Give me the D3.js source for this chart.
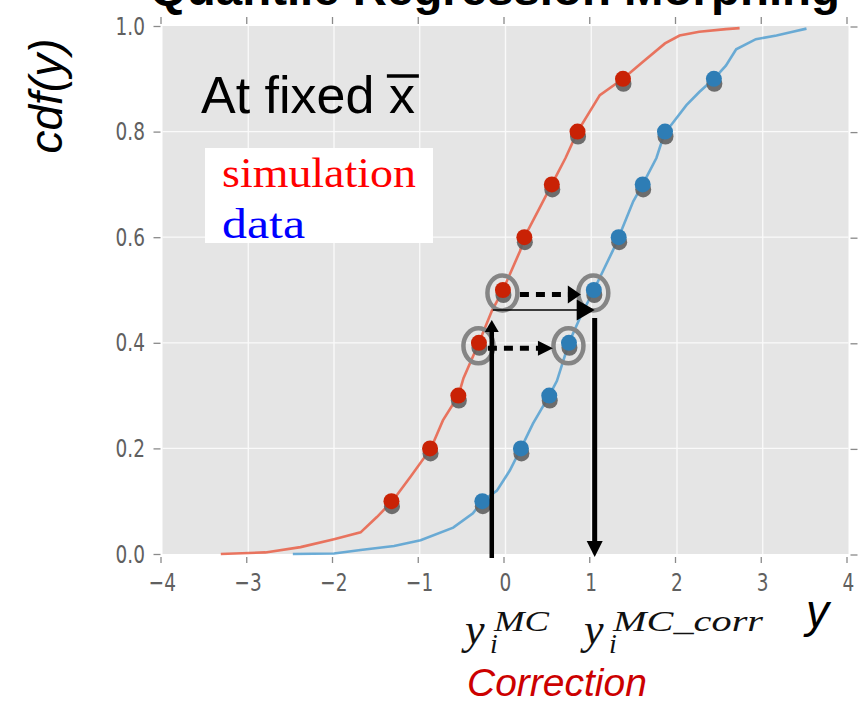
<!DOCTYPE html>
<html>
<head>
<meta charset="utf-8">
<script src="https://cdn.jsdelivr.net/npm/d3@7"></script>
<style>
  html, body { margin: 0; padding: 0; background: #fff; }
  svg { display: block; }
</style>
</head>
<body>
<svg id="chart" width="859" height="704"></svg>
<script>
// Empirical CDF of the simulation (x, cdf)
const simCurveX = [-3.32, -2.8, -2.39, -2.0, -1.69, -1.5, -1.32, -1.11, -0.87, -0.73, -0.55, -0.49, -0.31, -0.16, -0.03, 0.17, 0.22, 0.38, 0.54, 0.70, 0.84, 1.10, 1.37, 1.60, 1.86, 2.03, 2.26, 2.57, 2.73];
const simCurveP = [0.0, 0.003, 0.013, 0.028, 0.041, 0.07, 0.1, 0.146, 0.2, 0.253, 0.3, 0.333, 0.4, 0.46, 0.5, 0.574, 0.6, 0.65, 0.7, 0.75, 0.8, 0.869, 0.9, 0.932, 0.967, 0.982, 0.989, 0.994, 0.996];
// Empirical CDF of the data (x, cdf)
const dataCurveX = [-2.48, -2.0, -1.69, -1.3, -0.99, -0.61, -0.38, -0.27, -0.10, 0.05, 0.18, 0.32, 0.51, 0.60, 0.74, 0.87, 1.03, 1.25, 1.32, 1.49, 1.60, 1.76, 1.86, 1.93, 2.11, 2.26, 2.43, 2.57, 2.69, 2.92, 3.16, 3.35, 3.51];
const dataCurveP = [0.0, 0.001, 0.0075, 0.015, 0.026, 0.05, 0.077, 0.1, 0.12, 0.158, 0.2, 0.247, 0.3, 0.328, 0.4, 0.448, 0.5, 0.574, 0.6, 0.668, 0.7, 0.75, 0.8, 0.812, 0.85, 0.875, 0.9, 0.925, 0.956, 0.975, 0.982, 0.989, 0.995];
// Quantile levels and the fitted quantiles of each sample
const quantileLevels = [0.1, 0.2, 0.3, 0.4, 0.5, 0.6, 0.7, 0.8, 0.9];
const simQuantiles = [-1.33, -0.88, -0.55, -0.31, -0.03, 0.22, 0.54, 0.84, 1.37];
const dataQuantiles = [-0.27, 0.18, 0.51, 0.74, 1.03, 1.32, 1.60, 1.86, 2.43];
// Highlighted quantile indices (0.4 and 0.5)
const highlighted = [3, 4];
// Correction example: y_MC, corrected value, cdf level
const yMC = -0.16;
const yCorr = 1.04;
const pLevel = 0.462;
// Axis ticks
const xTicks = [-4, -3, -2, -1, 0, 1, 2, 3, 4];
const yTicks = [0.0, 0.2, 0.4, 0.6, 0.8, 1.0];

(function draw() {
const svg = d3.select("#chart");
const pl = 162.5, pr = 848.5, pt = 26, pb = 554;
const x = d3.scaleLinear().domain([-4, 4]).range([pl, pr]);
const y = d3.scaleLinear().domain([0, 1]).range([pb, pt]);

const RED_LINE = "#E8563C", BLUE_LINE = "#4A9BD0";
const RED_PT = "#C92205", BLUE_PT = "#2E7DB5";
const tickFont = "'DejaVu Sans', sans-serif";
const sans = "'Liberation Sans', Arial, sans-serif";

// Title (runs off the top edge)
svg.append("text")
  .attr("x", 150).attr("y", 5)
  .attr("textLength", 690).attr("lengthAdjust", "spacingAndGlyphs")
  .style("font-family", sans)
  .style("font-weight", "bold").style("font-size", "47px")
  .text("Quantile Regression Morphing");

// Plot background and grid
svg.append("rect").attr("x", pl).attr("y", pt)
  .attr("width", pr - pl).attr("height", pb - pt)
  .attr("fill", "#E5E5E5");
const grid = svg.append("g").attr("stroke", "#FAFAFA").attr("stroke-width", 1.3);
grid.selectAll(".gx").data(xTicks.slice(1, -1)).join("line")
  .attr("x1", d => x(d)).attr("x2", d => x(d)).attr("y1", pt).attr("y2", pb);
grid.selectAll(".gy").data(yTicks.slice(1, -1)).join("line")
  .attr("y1", d => y(d)).attr("y2", d => y(d)).attr("x1", pl).attr("x2", pr);

// Ticks on all four sides
const ticks = svg.append("g").attr("stroke", "#8a8a8a").attr("stroke-width", 1.3);
xTicks.forEach(t => {
  ticks.append("line").attr("x1", x(t) - 1.5).attr("x2", x(t) - 1.5).attr("y1", pb + 3).attr("y2", pb + 9);
  ticks.append("line").attr("x1", x(t) - 1.5).attr("x2", x(t) - 1.5).attr("y1", pt - 9).attr("y2", pt - 2);
});
yTicks.forEach(t => {
  ticks.append("line").attr("x1", pl - 9).attr("x2", pl - 2).attr("y1", y(t) + 0.5).attr("y2", y(t) + 0.5);
  ticks.append("line").attr("x1", pr + 2).attr("x2", pr + 9).attr("y1", y(t) + 1).attr("y2", y(t) + 1);
});

// Tick labels (narrow, tall digits)
svg.append("g").selectAll("text").data(xTicks).join("text")
  .attr("transform", d => `translate(${x(d)},591) scale(0.74,1)`)
  .attr("text-anchor", "middle")
  .attr("fill", "#606060")
  .style("font-family", tickFont).style("font-size", "25px")
  .text(d => d < 0 ? "\u2212" + Math.abs(d) : String(d));
svg.append("g").selectAll("text").data(yTicks).join("text")
  .attr("transform", d => `translate(145,${y(d) + 8.5}) scale(0.74,1)`)
  .attr("text-anchor", "end")
  .attr("fill", "#606060")
  .style("font-family", tickFont).style("font-size", "25px")
  .text(d => d.toFixed(1));

// CDF curves
const line = d3.line().x(d => x(d[0])).y(d => y(d[1]));
svg.append("path").datum(d3.zip(simCurveX, simCurveP))
  .attr("d", line).attr("fill", "none")
  .attr("stroke", RED_LINE).attr("stroke-width", 2.6).attr("stroke-opacity", 0.8);
svg.append("path").datum(d3.zip(dataCurveX, dataCurveP))
  .attr("d", line).attr("fill", "none")
  .attr("stroke", BLUE_LINE).attr("stroke-width", 2.6).attr("stroke-opacity", 0.8);

// Quantile markers with drop shadows
function markers(vals, color) {
  const g = svg.append("g");
  g.selectAll(".sh").data(vals).join("circle")
    .attr("cx", (d) => x(d) + 0.5).attr("cy", (d, i) => y(quantileLevels[i]) + 5)
    .attr("r", 8).attr("fill", "#5f5f5f").attr("fill-opacity", 0.9);
  g.selectAll(".mk").data(vals).join("circle")
    .attr("cx", d => x(d)).attr("cy", (d, i) => y(quantileLevels[i]))
    .attr("r", 8).attr("fill", color);
}
markers(simQuantiles, RED_PT);
markers(dataQuantiles, BLUE_PT);

// Gray rings around the highlighted quantiles
const rings = svg.append("g").attr("fill", "none").attr("stroke", "#858585").attr("stroke-width", 4.5);
highlighted.forEach(i => {
  [simQuantiles[i], dataQuantiles[i]].forEach(v => {
    rings.append("ellipse").attr("cx", x(v) - 0.5).attr("cy", y(quantileLevels[i]) + 3)
      .attr("rx", 15).attr("ry", 17.5);
  });
});

// Arrow helper: shaft plus triangular head pointing to (x2, y2)
function arrow(x1, y1, x2, y2, w, headLen, headW, dash) {
  const dx = x2 - x1, dy = y2 - y1, L = Math.hypot(dx, dy);
  const ux = dx / L, uy = dy / L, px = -uy, py = ux;
  const bx = x2 - ux * headLen, by = y2 - uy * headLen;
  const shaft = svg.append("line")
    .attr("x1", x1).attr("y1", y1).attr("x2", bx + ux * 1).attr("y2", by + uy * 1)
    .attr("stroke", "#000").attr("stroke-width", w);
  if (dash) shaft.attr("stroke-dasharray", dash);
  svg.append("path")
    .attr("d", `M${x2},${y2}L${bx + px * headW / 2},${by + py * headW / 2}L${bx - px * headW / 2},${by - py * headW / 2}Z`)
    .attr("fill", "#000");
}

// Dashed arrows from simulation quantile to data quantile
const p5 = quantileLevels[4], p4 = quantileLevels[3];
arrow(x(simQuantiles[4]) + 17, y(p5) + 4.5, x(dataQuantiles[4]) - 13, y(p5) + 4.5, 5, 13, 18, "9,7");
arrow(x(simQuantiles[3]) + 9, y(p4) + 5.5, x(dataQuantiles[3]) - 16, y(p4) + 5.5, 5, 15, 15, "9,7");

// Correction path: up to the simulation CDF, across to the data CDF, down to the corrected value
arrow(x(yMC), y(0) + 4, x(yMC), y(pLevel) + 10, 4.5, 12, 14, null);
arrow(x(yMC) + 1, y(pLevel), x(yCorr), y(pLevel), 1.5, 18, 21, null);
arrow(x(yCorr), y(pLevel) + 8, x(yCorr), y(0) + 3, 5, 16, 16, null);

// "At fixed x̄"
const atText = svg.append("text")
  .attr("x", 201).attr("y", 113)
  .style("font-family", sans).style("font-size", "52px")
  .text("At fixed");
const atW = atText.node().getComputedTextLength() + 52 * 0.278;
const xbar = svg.append("text")
  .attr("x", 201 + atW).attr("y", 113)
  .style("font-family", sans).style("font-size", "52px")
  .text("x");
const xbW = xbar.node().getComputedTextLength();
svg.append("line")
  .attr("x1", 201 + atW - 2).attr("x2", 201 + atW + xbW + 4)
  .attr("y1", 76).attr("y2", 76)
  .attr("stroke", "#000").attr("stroke-width", 3.5);

// Legend
svg.append("rect").attr("x", 205).attr("y", 148).attr("width", 228).attr("height", 95).attr("fill", "#fff");
svg.append("text").attr("x", 222).attr("y", 187)
  .attr("fill", "#FF0000")
  .attr("textLength", 194).attr("lengthAdjust", "spacingAndGlyphs")
  .style("font-family", "'Liberation Serif', 'Times New Roman', serif").style("font-size", "42px")
  .text("simulation");
svg.append("text").attr("x", 222).attr("y", 238)
  .attr("fill", "#0000FF")
  .attr("textLength", 83).attr("lengthAdjust", "spacingAndGlyphs")
  .style("font-family", "'Liberation Serif', 'Times New Roman', serif").style("font-size", "42px")
  .text("data");

// Axis titles
svg.append("text")
  .attr("transform", "translate(62,96) rotate(-90)")
  .attr("text-anchor", "middle")
  .style("font-family", sans).style("font-style", "italic").style("font-size", "46px")
  .text("cdf(y)");
svg.append("text")
  .attr("x", 806).attr("y", 627)
  .style("font-family", sans).style("font-style", "italic").style("font-size", "46px")
  .text("y");

// Math labels y_i^{MC} and y_i^{MC_corr}
const serif = "'Liberation Serif', 'Times New Roman', serif";
function mathLabel(x0, sup, supLen) {
  const g = svg.append("g").attr("fill", "#111").style("font-family", serif).style("font-style", "italic");
  g.append("text").attr("x", x0).attr("y", 644).style("font-size", "44px").text("y");
  g.append("text").attr("x", x0 + 25).attr("y", 653).style("font-size", "28px").text("i");
  g.append("text").attr("x", x0 + 29).attr("y", 631).style("font-size", "30px")
    .attr("textLength", supLen).attr("lengthAdjust", "spacingAndGlyphs").text(sup);
}
mathLabel(465, "MC", 55);
mathLabel(584, "MC_corr", 150);

svg.append("text")
  .attr("x", 467).attr("y", 696)
  .attr("fill", "#CC0000")
  .style("font-family", sans).style("font-style", "italic").style("font-size", "39px")
  .text("Correction");
})();
</script>
</body>
</html>
